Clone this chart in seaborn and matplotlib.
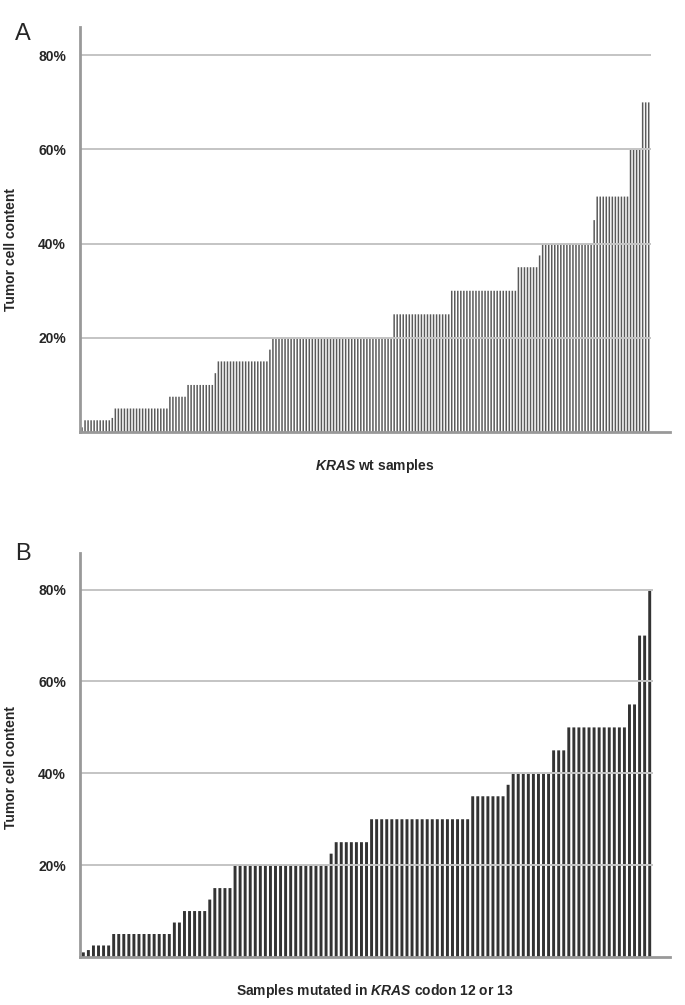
import numpy as np
import pandas as pd
import seaborn as sns
import matplotlib.pyplot as plt

# tumor cell content (%) per sample, sorted ascending
wt_levels = [1, 2.5, 3, 5, 7.5, 10, 12.5, 15, 17.5, 20, 25, 30, 35, 37.5, 40, 45, 50, 60, 70]
wt_counts = [1, 9, 1, 18, 6, 9, 1, 17, 1, 40, 19, 22, 7, 1, 17, 1, 11, 4, 3]

mut_levels = [1, 1.5, 2.5, 5, 7.5, 10, 12.5, 15, 20, 22.5, 25, 30, 35, 37.5, 40, 45, 50, 55, 70, 80]
mut_counts = [1, 1, 4, 12, 2, 5, 1, 4, 19, 1, 7, 20, 7, 1, 8, 3, 12, 2, 2, 1]

ytick_vals = [20, 40, 60, 80]
ytick_labels = ['20%', '40%', '60%', '80%']

wt = np.repeat(wt_levels, wt_counts)
mut = np.repeat(mut_levels, mut_counts)

sns.set_style('white')
plt.rcParams['font.family'] = ['Liberation Sans', 'DejaVu Sans']
plt.rcParams['mathtext.fontset'] = 'custom'
plt.rcParams['mathtext.bfit'] = 'Liberation Sans:italic:bold'
plt.rcParams['mathtext.it'] = 'Liberation Sans:italic'
plt.rcParams['mathtext.bf'] = 'Liberation Sans:bold'

fig = plt.figure(figsize=(6.85, 10.05), dpi=100)
axA = fig.add_axes([0.1168, 0.5701, 0.978 - 0.1168, 0.4030])
axB = fig.add_axes([0.1168, 0.0478, 0.978 - 0.1168, 0.4020])


def draw_panel(ax, vals, color, width, ytop, xright, xlabel, ylab_y):
    n = len(vals)
    df = pd.DataFrame({'idx': np.arange(n), 'val': vals})
    sns.barplot(data=df, x='idx', y='val', native_scale=True, color=color,
                width=width, linewidth=0, saturation=1, errorbar=None, ax=ax)
    for p in ax.patches:
        p.set_snap(False)
    ax.hlines(ytick_vals, -0.66, n - 0.4, colors='#c4c4c4', linewidth=1.4, zorder=3)
    ax.set_xlim(-0.66, n - 1 + xright)
    ax.set_ylim(0, ytop)
    ax.set_xticks([])
    ax.set_yticks(ytick_vals)
    ax.set_yticklabels(ytick_labels, fontsize=10, fontweight='bold')
    ax.tick_params(axis='y', length=0, pad=10)
    for s in ['top', 'right']:
        ax.spines[s].set_visible(False)
    for s in ['left', 'bottom']:
        ax.spines[s].set_color('#999999')
        ax.spines[s].set_linewidth(2)
        ax.spines[s].set_zorder(4)
    ax.set_xlabel(xlabel, fontsize=10, fontweight='bold', labelpad=18)
    ax.set_ylabel('Tumor cell content', fontsize=10, fontweight='bold')
    ax.yaxis.set_label_coords(-0.105, ylab_y)


draw_panel(axA, wt, '#5a5a5a', 0.5, 86, 7.0,
           r'$\mathbfit{KRAS}$ wt samples', 0.45)
draw_panel(axB, mut, '#333333', 0.58, 88, 4.0,
           r'Samples mutated in $\mathbfit{KRAS}$ codon 12 or 13', 0.47)

fig.text(0.022, 0.966, 'A', fontsize=17, va='center', ha='left')
fig.text(0.022, 0.449, 'B', fontsize=17, va='center', ha='left')

fig.savefig('out.png', dpi=100)
